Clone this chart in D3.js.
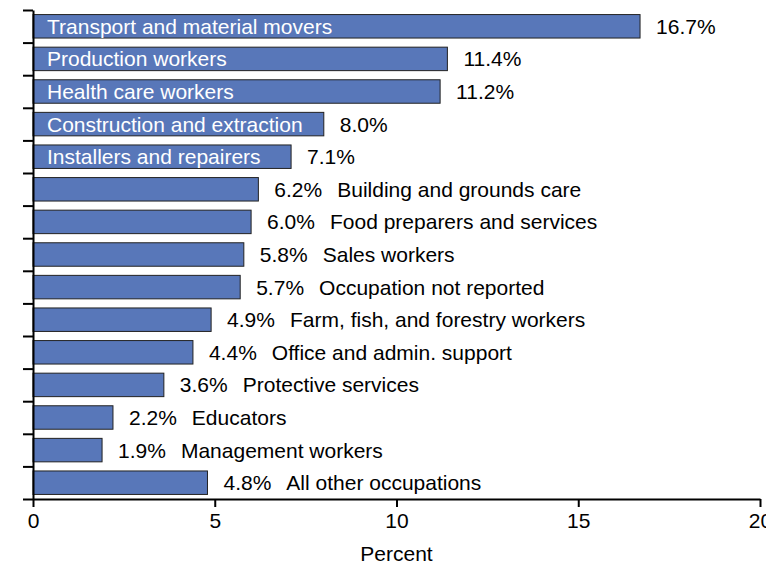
<!DOCTYPE html>
<html lang="en">
<head>
    <meta charset="UTF-8">
    <script src="https://d3js.org/d3.v7.min.js"></script>
    <style>
        body { margin: 0; background: #fff; font-family: "Liberation Sans", Arial, sans-serif; }
        .lbl { font-size: 21px; fill: #000; }
        .inlbl { font-size: 21px; fill: #fff; }
        .axis path, .axis line { stroke: #000; stroke-width: 2px; }
        .axis text { font-size: 21px; fill: #000; font-family: "Liberation Sans", Arial, sans-serif; }
    </style>
</head>
<body>
    <div id="chart"></div>

    <script>
        // data
        const occupations = [
            "Transport and material movers", "Production workers", "Health care workers",
            "Construction and extraction", "Installers and repairers", "Building and grounds care",
            "Food preparers and services", "Sales workers", "Occupation not reported",
            "Farm, fish, and forestry workers", "Office and admin. support", "Protective services",
            "Educators", "Management workers", "All other occupations"
        ];
        const percents = [16.7, 11.4, 11.2, 8.0, 7.1, 6.2, 6.0, 5.8, 5.7, 4.9, 4.4, 3.6, 2.2, 1.9, 4.8];
        const xTicks = [0, 5, 10, 15, 20];
        const labelInside = 5; // first five rows carry their name inside the bar

        const data = occupations.map((name, i) => ({ name, value: percents[i], i }));

        const W = 766, H = 564;
        const margin = { top: 10, right: 6, bottom: 65, left: 33 };
        const plotBottom = H - margin.bottom;

        const svg = d3.select("#chart").append("svg")
            .attr("width", W)
            .attr("height", H);

        const x = d3.scaleLinear()
            .domain([0, 20])
            .range([margin.left, W - margin.right]);

        const y = d3.scaleBand()
            .domain(occupations)
            .range([margin.top, plotBottom])
            .paddingInner(0.28)
            .paddingOuter(0.14);

        // boundaries between rows, for the left ticks
        const rowEdge = d3.scaleLinear()
            .domain([0, occupations.length])
            .range([margin.top, plotBottom]);

        svg.selectAll("rect.bar")
            .data(data)
            .enter().append("rect")
            .attr("class", "bar")
            .attr("x", x(0))
            .attr("y", d => y(d.name))
            .attr("width", d => x(d.value) - x(0))
            .attr("height", y.bandwidth())
            .attr("fill", "#5877b9")
            .attr("stroke", "#222")
            .attr("stroke-width", 1);

        const mid = d => y(d.name) + y.bandwidth() / 2;

        // names inside bars
        svg.selectAll("text.inlbl")
            .data(data.filter(d => d.i < labelInside))
            .enter().append("text")
            .attr("class", "inlbl")
            .attr("x", x(0) + 14)
            .attr("y", mid)
            .attr("dy", "0.36em")
            .text(d => d.name);

        // value labels
        const vals = svg.selectAll("text.val")
            .data(data)
            .enter().append("text")
            .attr("class", "lbl val")
            .attr("x", d => x(d.value) + 16)
            .attr("y", mid)
            .attr("dy", "0.36em")
            .text(d => d.value.toFixed(1) + "%");

        // names after the value for the remaining rows
        vals.each(function(d) {
            if (d.i < labelInside) return;
            const w = this.getComputedTextLength();
            svg.append("text")
                .attr("class", "lbl")
                .attr("x", x(d.value) + 16 + w + 15)
                .attr("y", mid(d))
                .attr("dy", "0.36em")
                .text(d.name);
        });

        // left axis: ticks on row boundaries
        svg.append("g")
            .attr("class", "axis")
            .attr("transform", `translate(${margin.left},0)`)
            .call(d3.axisLeft(rowEdge)
                .tickValues(d3.range(occupations.length + 1))
                .tickFormat("")
                .tickSize(10)
                .tickSizeOuter(0));

        // bottom axis
        svg.append("g")
            .attr("class", "axis")
            .attr("transform", `translate(0,${plotBottom})`)
            .call(d3.axisBottom(x)
                .tickValues(xTicks)
                .tickSize(8)
                .tickSizeOuter(0)
                .tickPadding(6));

        svg.append("text")
            .attr("x", x(10))
            .attr("y", H - 3)
            .attr("text-anchor", "middle")
            .style("font-size", "21px")
            .style("fill", "#000")
            .text("Percent");
    </script>
</body>
</html>
